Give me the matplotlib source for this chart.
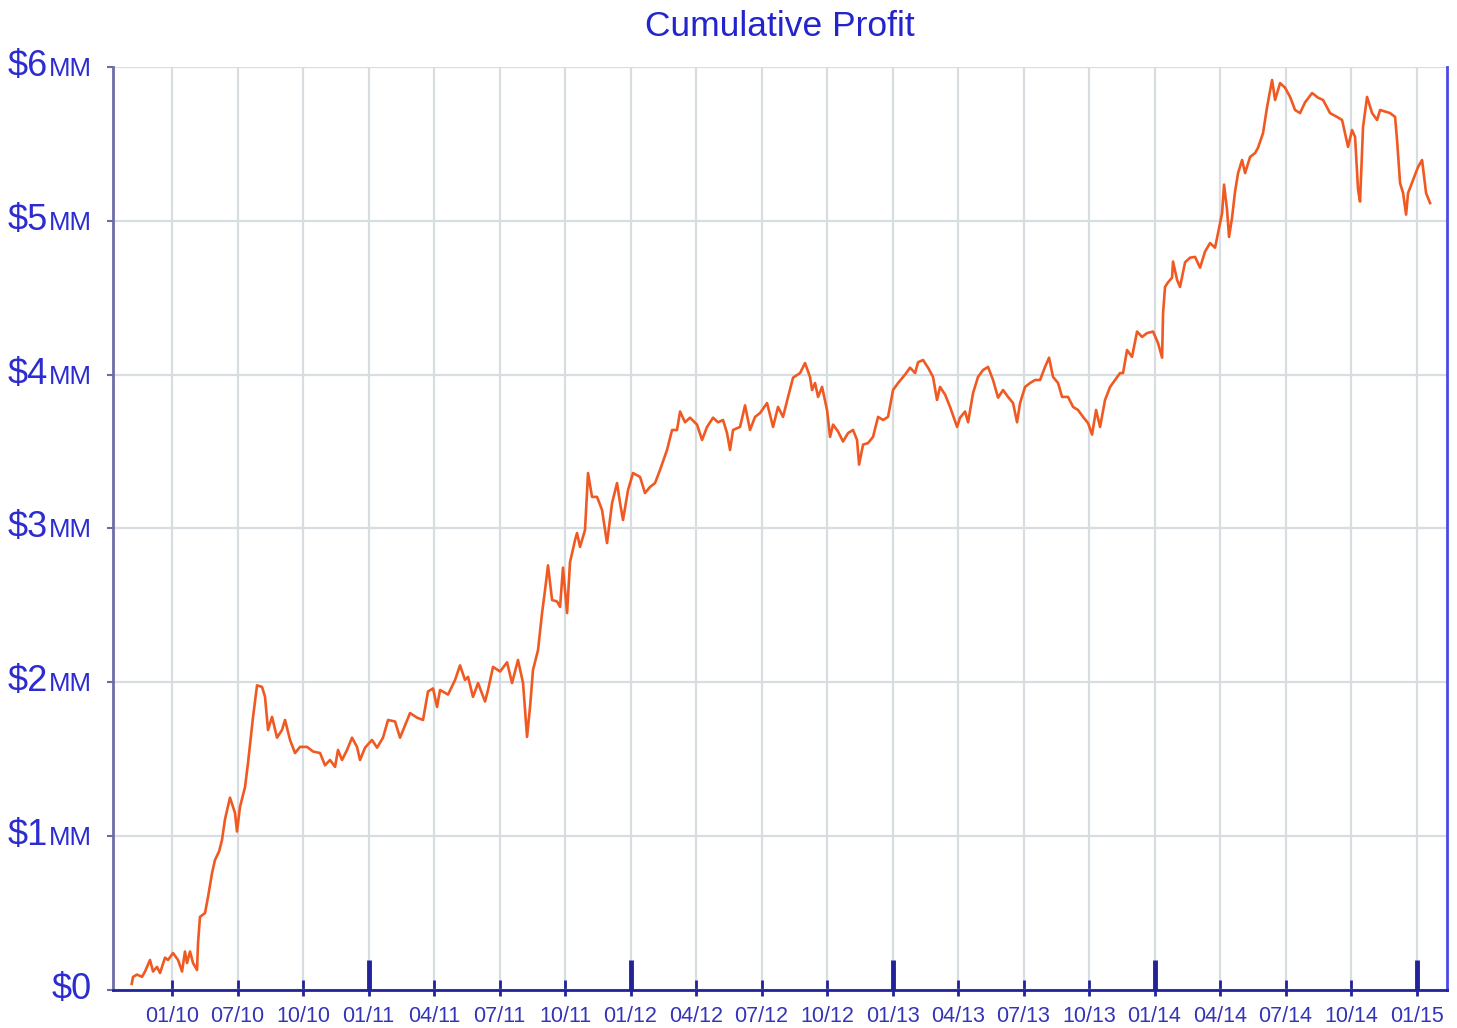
import matplotlib
matplotlib.use("Agg")
import matplotlib.pyplot as plt

# quarter tick labels as printed on the chart (evenly spaced)
quarter_labels = ["01/10", "07/10", "10/10", "01/11", "04/11", "07/11", "10/11",
                  "01/12", "04/12", "07/12", "10/12", "01/13", "04/13", "07/13",
                  "10/13", "01/14", "04/14", "07/14", "10/14", "01/15"]
year_ticks = [3, 7, 11, 15, 19]
y_levels = [0, 1, 2, 3, 4, 5, 6]

# time in quarters (0 = first tick), profit in $MM
t = [-0.615, -0.595, -0.534, -0.458, -0.412, -0.336, -0.290, -0.229, -0.183, -0.107,
     -0.061, 0.015, 0.092, 0.153, 0.198, 0.229, 0.275, 0.321, 0.382, 0.397,
     0.427, 0.504, 0.550, 0.611, 0.656, 0.718, 0.763, 0.809, 0.885, 0.962,
     0.992, 1.038, 1.115, 1.160, 1.237, 1.298, 1.374, 1.420, 1.466, 1.527,
     1.603, 1.679, 1.725, 1.802, 1.878, 1.954, 2.061, 2.153, 2.260, 2.336,
     2.412, 2.489, 2.534, 2.595, 2.672, 2.748, 2.824, 2.870, 2.947, 3.053,
     3.130, 3.221, 3.298, 3.405, 3.481, 3.557, 3.634, 3.740, 3.832, 3.908,
     3.985, 4.046, 4.092, 4.214, 4.321, 4.397, 4.473, 4.519, 4.595, 4.672,
     4.779, 4.824, 4.901, 5.008, 5.115, 5.191, 5.282, 5.359, 5.420, 5.466,
     5.511, 5.588, 5.649, 5.695, 5.740, 5.802, 5.878, 5.924, 5.969, 6.031,
     6.076, 6.153, 6.183, 6.229, 6.305, 6.351, 6.412, 6.489, 6.565, 6.641,
     6.718, 6.794, 6.840, 6.885, 6.962, 7.038, 7.145, 7.221, 7.298, 7.374,
     7.450, 7.557, 7.634, 7.710, 7.756, 7.832, 7.908, 8.015, 8.092, 8.168,
     8.260, 8.336, 8.412, 8.473, 8.519, 8.565, 8.672, 8.748, 8.824, 8.901,
     8.977, 9.084, 9.176, 9.252, 9.328, 9.405, 9.481, 9.588, 9.664, 9.740,
     9.771, 9.817, 9.863, 9.924, 10.000, 10.046, 10.092, 10.168, 10.244, 10.321,
     10.397, 10.458, 10.489, 10.550, 10.626, 10.702, 10.779, 10.855, 10.931, 11.008,
     11.084, 11.191, 11.267, 11.344, 11.389, 11.466, 11.542, 11.618, 11.679, 11.725,
     11.802, 11.878, 11.985, 12.031, 12.107, 12.153, 12.229, 12.305, 12.382, 12.458,
     12.534, 12.611, 12.687, 12.763, 12.840, 12.901, 12.947, 13.023, 13.099, 13.176,
     13.252, 13.328, 13.389, 13.450, 13.527, 13.588, 13.679, 13.756, 13.832, 13.908,
     13.985, 14.046, 14.107, 14.168, 14.244, 14.321, 14.397, 14.473, 14.519, 14.580,
     14.656, 14.733, 14.809, 14.885, 14.977, 15.053, 15.115, 15.130, 15.160, 15.206,
     15.267, 15.282, 15.344, 15.389, 15.466, 15.542, 15.618, 15.695, 15.771, 15.847,
     15.924, 15.969, 16.031, 16.061, 16.107, 16.137, 16.183, 16.229, 16.275, 16.336,
     16.382, 16.458, 16.534, 16.580, 16.656, 16.718, 16.794, 16.840, 16.916, 16.992,
     17.069, 17.145, 17.221, 17.298, 17.405, 17.496, 17.573, 17.679, 17.786, 17.863,
     17.908, 17.954, 18.015, 18.061, 18.107, 18.137, 18.183, 18.244, 18.321, 18.397,
     18.443, 18.519, 18.595, 18.672, 18.702, 18.748, 18.794, 18.840, 18.870, 18.947,
     19.023, 19.084, 19.115, 19.145, 19.206]
profit = [0.04, 0.085, 0.10, 0.085, 0.12, 0.195, 0.12, 0.15, 0.11, 0.21,
          0.195, 0.24, 0.195, 0.12, 0.25, 0.175, 0.25, 0.175, 0.13, 0.305,
          0.475, 0.50, 0.605, 0.76, 0.845, 0.90, 0.975, 1.11, 1.25, 1.15,
          1.03, 1.19, 1.32, 1.475, 1.775, 1.98, 1.97, 1.905, 1.69, 1.775,
          1.64, 1.69, 1.755, 1.625, 1.54, 1.58, 1.58, 1.55, 1.54, 1.46,
          1.495, 1.45, 1.56, 1.495, 1.56, 1.64, 1.58, 1.495, 1.575, 1.625,
          1.575, 1.64, 1.755, 1.745, 1.64, 1.72, 1.80, 1.77, 1.755, 1.94,
          1.96, 1.84, 1.95, 1.92, 2.015, 2.11, 2.015, 2.035, 1.905, 1.995,
          1.875, 1.95, 2.10, 2.07, 2.13, 1.995, 2.145, 1.995, 1.645, 1.84,
          2.08, 2.21, 2.45, 2.60, 2.76, 2.535, 2.525, 2.49, 2.745, 2.45,
          2.78, 2.925, 2.97, 2.88, 2.99, 3.36, 3.205, 3.205, 3.12, 2.905,
          3.165, 3.295, 3.165, 3.055, 3.25, 3.36, 3.335, 3.23, 3.27, 3.295,
          3.38, 3.51, 3.64, 3.64, 3.76, 3.69, 3.72, 3.675, 3.575, 3.66,
          3.72, 3.69, 3.705, 3.62, 3.51, 3.64, 3.66, 3.80, 3.64, 3.725,
          3.75, 3.815, 3.66, 3.79, 3.725, 3.855, 3.98, 4.01, 4.075, 3.985,
          3.90, 3.945, 3.855, 3.92, 3.77, 3.595, 3.675, 3.63, 3.565, 3.62,
          3.64, 3.575, 3.415, 3.545, 3.555, 3.595, 3.725, 3.705, 3.725, 3.90,
          3.945, 4.00, 4.045, 4.01, 4.08, 4.095, 4.045, 3.985, 3.835, 3.92,
          3.87, 3.79, 3.66, 3.72, 3.76, 3.69, 3.88, 3.985, 4.03, 4.05,
          3.965, 3.85, 3.90, 3.855, 3.815, 3.69, 3.815, 3.92, 3.945, 3.965,
          3.965, 4.05, 4.11, 3.985, 3.945, 3.855, 3.855, 3.79, 3.77, 3.725,
          3.685, 3.61, 3.77, 3.66, 3.835, 3.92, 3.965, 4.01, 4.01, 4.16,
          4.115, 4.28, 4.245, 4.27, 4.28, 4.205, 4.11, 4.40, 4.57, 4.60,
          4.63, 4.735, 4.615, 4.57, 4.73, 4.76, 4.765, 4.695, 4.80, 4.855,
          4.825, 4.92, 5.05, 5.235, 5.07, 4.895, 5.02, 5.19, 5.31, 5.395,
          5.31, 5.415, 5.44, 5.475, 5.57, 5.74, 5.915, 5.785, 5.895, 5.865,
          5.805, 5.72, 5.70, 5.77, 5.83, 5.80, 5.785, 5.70, 5.675, 5.655,
          5.57, 5.48, 5.59, 5.545, 5.20, 5.125, 5.61, 5.805, 5.70, 5.655,
          5.72, 5.71, 5.70, 5.675, 5.525, 5.245, 5.18, 5.04, 5.18, 5.265,
          5.35, 5.395, 5.285, 5.18, 5.115]

blue_txt = "#2c2cd0"
navy = "#22229a"
grid_c = "#d7dde1"
line_c = "#f05a22"

plt.rcParams['font.family'] = ['Liberation Sans', 'DejaVu Sans']

fig = plt.figure(figsize=(14.57, 10.28), dpi=100)
ax = fig.add_axes([0.0776, 0.037, 0.9156, 0.8979])

ax.plot(t, profit, color=line_c, lw=1.9, zorder=3)

ax.set_xlim(-0.90, 19.466)
ax.set_ylim(0, 6)

# x axis: short ticks crossing the spine, labels under each quarter
ax.set_xticks(range(len(quarter_labels)))
ax.set_xticklabels(quarter_labels, fontsize=15.5, color="#3434b8")
ax.set_xticks(range(len(quarter_labels)), minor=True)
ax.xaxis.remove_overlapping_locs = False
ax.tick_params(axis='x', which='major', direction='out', length=4.3, width=2,
               color=navy, pad=7)
ax.tick_params(axis='x', which='minor', direction='in', length=7.2, width=2,
               color=navy)
# taller, heavier marks at year boundaries
ax.vlines(year_ticks, 0, 0.032, transform=ax.get_xaxis_transform(),
          color=navy, lw=3.5, zorder=4)

ax.set_yticks(y_levels)
ax.set_yticklabels([])
ax.tick_params(axis='y', direction='out', length=4.5, width=1.5, color="#6d6da6")

ax.grid(True, color=grid_c, lw=1.6, zorder=0)
ax.set_axisbelow(True)

ax.spines['top'].set_visible(False)
ax.spines['left'].set_color("#6d6da6")
ax.spines['left'].set_linewidth(2)
ax.spines['bottom'].set_color(navy)
ax.spines['bottom'].set_linewidth(2)
ax.spines['right'].set_color("#4a4ae6")
ax.spines['right'].set_linewidth(2)

ax.set_title("Cumulative Profit", fontsize=25.5, color="#2424cc", pad=22)

# y labels: large "$n" followed by small "MM"
mm_texts = {}
for v in y_levels:
    if v == 0:
        continue
    mm_texts[v] = ax.annotate("MM", xy=(0, v), xycoords=('axes fraction', 'data'),
                              xytext=(-21, -9), textcoords='offset pixels',
                              ha='right', va='baseline', fontsize=18.5,
                              color=blue_txt, parse_math=False)
fig.canvas.draw()
for v in y_levels:
    shift = -21
    if v in mm_texts:
        shift -= mm_texts[v].get_window_extent().width + 1
    ax.annotate(f"${v}", xy=(0, v), xycoords=('axes fraction', 'data'),
                xytext=(shift, -9), textcoords='offset pixels',
                ha='right', va='baseline', fontsize=26, color=blue_txt,
                parse_math=False)

fig.savefig("out.png", dpi=100)
